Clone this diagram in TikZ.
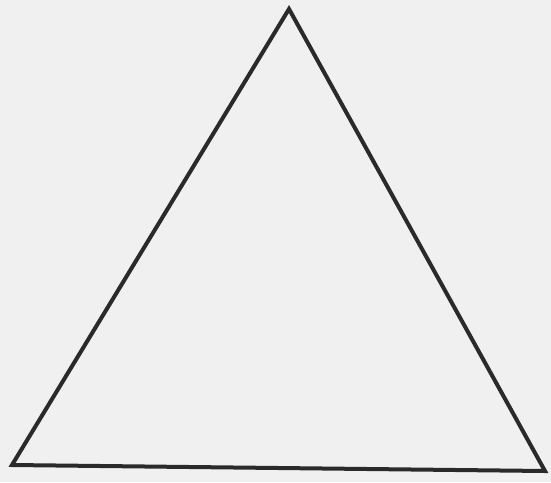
\documentclass[tikz,border=0pt]{standalone}
\begin{document}
\begin{tikzpicture}[x=1pt,y=-1pt]
\definecolor{paper}{HTML}{F0F0F0}
\definecolor{ink}{HTML}{2A2A2A}
\tikzset{tri/.style={draw=ink,line width=4pt,line join=miter}}
\fill[paper] (0,0) rectangle (551,482);
\useasboundingbox (0,0) rectangle (551,482);
\coordinate (apex) at (289,9);
\coordinate (bl) at (12,465);
\coordinate (br) at (545,471);
\draw[tri] (apex) -- (bl) -- (br) -- cycle;
\end{tikzpicture}
\end{document}
